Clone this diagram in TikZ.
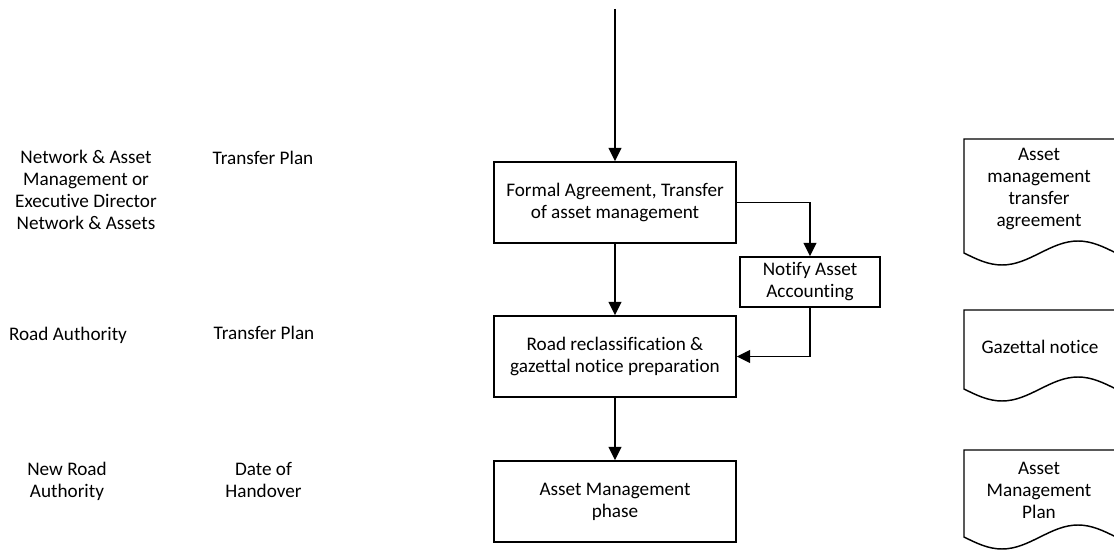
\documentclass[tikz,border=0pt]{standalone}
\usepackage{fontspec}
\setmainfont{Carlito}[Ligatures={NoCommon}]
\usetikzlibrary{arrows.meta}
\begin{document}
\begin{tikzpicture}[x=0.75pt,y=-0.75pt,
  font=\fontsize{14.4}{16.5}\selectfont,
  every node/.style={align=center, inner sep=0pt},
  procbox/.style={draw, line width=1.1pt, minimum width=181.5pt, minimum height=60.75pt},
  notebox/.style={draw, line width=1.1pt, minimum width=105pt, minimum height=37.5pt},
  label/.style={},
  docline/.style={draw, line width=1.1pt},
  flow/.style={line width=1.2pt, -{Triangle[width=9.5pt,length=10pt]}}
]
\useasboundingbox (0,0) rectangle (1114,552);

% left labels
\node[label] (r1a) at (86,189.5) {Network \& Asset\\Management or\\Executive Director\\Network \& Assets};
\node[label] (r1b) at (263,158) {Transfer Plan};
\node[label] (r2a) at (68,335) {Road Authority};
\node[label] (r2b) at (264,333) {Transfer Plan};
\node[label] (r3a) at (67,481) {New Road\\Authority};
\node[label] (r3b) at (263.5,479.5) {Date of\\Handover};

% process boxes
\coordinate (start) at (615,9);
\node[procbox] (b1) at (615,202.5) {Formal Agreement, Transfer\\of asset management};
\node[notebox] (nt) at (810,282) {Notify Asset\\Accounting};
\node[procbox] (b2) at (615,356.5) {Road reclassification \&\\gazettal notice preparation};
\node[procbox] (b3) at (615,501.5) {Asset Management\\phase};

\draw[flow] (start) -- (b1.north);
\draw[flow] (b1.east) -| (nt.north);
\draw[flow] (b1.south) -- (b2.north);
\draw[flow] (nt.south) |- (b2.east);
\draw[flow] (b2.south) -- (b3.north);

% documents
\begin{scope}
\clip (0,0) rectangle (1114,552);
\draw[docline] (1116,253) -- (1116,139) -- (964,139) -- (964,253)
  sin (1002,265) cos (1040,253) sin (1078,241) cos (1116,253);
\draw[docline] (1116,389) -- (1116,310) -- (964,310) -- (964,389)
  sin (1002,401) cos (1040,389) sin (1078,377) cos (1116,389);
\draw[docline] (1116,537) -- (1116,450) -- (964,450) -- (964,537)
  sin (1002,549) cos (1040,537) sin (1078,525) cos (1116,537);
\end{scope}
\node[label] (d1) at (1039,189) {Asset\\management\\transfer\\agreement};
\node[label] (d2) at (1040,347) {Gazettal notice};
\node[label] (d3) at (1039,490) {Asset\\Management\\Plan};
\end{tikzpicture}
\end{document}
